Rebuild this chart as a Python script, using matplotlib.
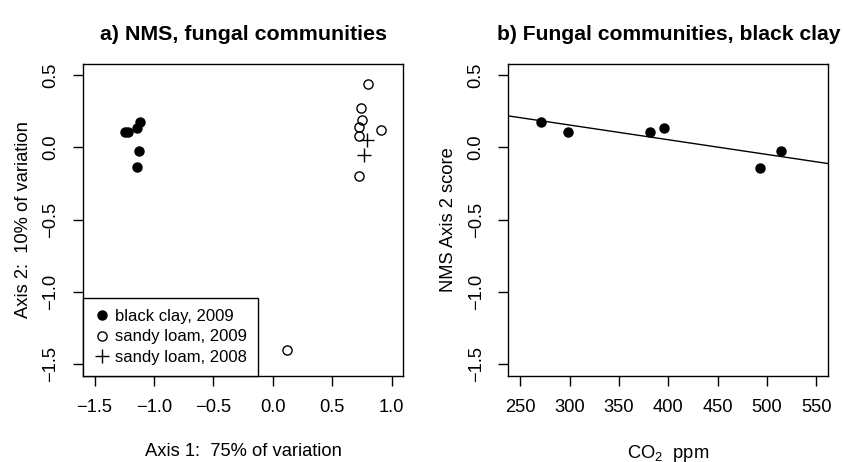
"""NMS ordination of fungal communities and axis 2 score against CO2."""

import numpy as np
import matplotlib
matplotlib.use("Agg")
import matplotlib.pyplot as plt

plt.rcParams['font.family'] = ['Liberation Sans', 'DejaVu Sans']

# NMS scores, black clay 2009
clay09_x = [-1.24, -1.22, -1.14, -1.115, -1.13, -1.145]
clay09_y = [0.108, 0.108, 0.136, 0.18, -0.021, -0.136]

# NMS scores, sandy loam 2009
loam09_x = [0.80, 0.745, 0.75, 0.723, 0.728, 0.908, 0.723, 0.118]
loam09_y = [0.44, 0.272, 0.191, 0.143, 0.081, 0.124, -0.196, -1.403]

# NMS scores, sandy loam 2008
loam08_x = [0.79, 0.765]
loam08_y = [0.05, -0.055]

# black clay: CO2 vs axis 2 score
co2_ppm = [271, 298, 381, 396, 493, 514]
axis2_score = [0.18, 0.11, 0.108, 0.134, -0.141, -0.021]

fig = plt.figure(figsize=(8.44, 4.62), dpi=100)
ax1 = fig.add_axes([0.098, 0.187, 0.380, 0.675])
ax2 = fig.add_axes([0.6023, 0.187, 0.379, 0.675])

for ax in (ax1, ax2):
    for sp in ax.spines.values():
        sp.set_linewidth(1.0)
    ax.tick_params(direction='out', length=7, width=1.0, labelsize=13.2,
                   pad=10)
    ax.set_ylim(-1.58, 0.58)
    ax.set_yticks([-1.5, -1.0, -0.5, 0.0, 0.5])
    ax.set_yticklabels(['\u22121.5', '\u22121.0', '\u22120.5', '0.0', '0.5'],
                       rotation=90, va='center')

# panel a
ax1.plot(clay09_x, clay09_y, 'o', color='black', markersize=6.5,
         label='black clay, 2009')
ax1.plot(loam09_x, loam09_y, 'o', mfc='none', mec='black', mew=1.0,
         markersize=6.6, label='sandy loam, 2009')
ax1.plot(loam08_x, loam08_y, '+', color='black', markersize=9.5, mew=1.0,
         label='sandy loam, 2008')
ax1.set_xlim(-1.6, 1.1)
ax1.set_xticks([-1.5, -1.0, -0.5, 0.0, 0.5, 1.0])
ax1.set_xticklabels(['\u22121.5', '\u22121.0', '\u22120.5', '0.0', '0.5',
                     '1.0'])
ax1.set_xlabel('Axis 1:  75% of variation', fontsize=13.2, labelpad=19)
ax1.set_ylabel('Axis 2:  10% of variation', fontsize=13.2, labelpad=7)
ax1.set_title('a) NMS, fungal communities', fontsize=15.4, fontweight='bold',
              pad=17)
leg = ax1.legend(loc='lower left', borderaxespad=0, fancybox=False,
                 framealpha=1, edgecolor='black', fontsize=12,
                 handlelength=1.0, handletextpad=0.3, borderpad=0.65,
                 labelspacing=0.32)
leg.get_frame().set_linewidth(1.0)

# panel b
ax2.plot(co2_ppm, axis2_score, 'o', color='black', markersize=6.5)
slope, intercept = np.polyfit(co2_ppm, axis2_score, 1)
xl = np.array([238, 562])
ax2.plot(xl, intercept + slope * xl, color='black', linewidth=1.0)
ax2.set_xlim(238, 562)
ax2.set_xticks([250, 300, 350, 400, 450, 500, 550])
ax2.set_xlabel(r'$\mathregular{CO_2}$  ppm', fontsize=13.2, labelpad=19)
ax2.set_ylabel('NMS Axis 2 score', fontsize=13.2, labelpad=8)
ax2.set_title('b) Fungal communities, black clay', fontsize=15.2,
              fontweight='bold', pad=17)

fig.savefig('out.png', dpi=100)
